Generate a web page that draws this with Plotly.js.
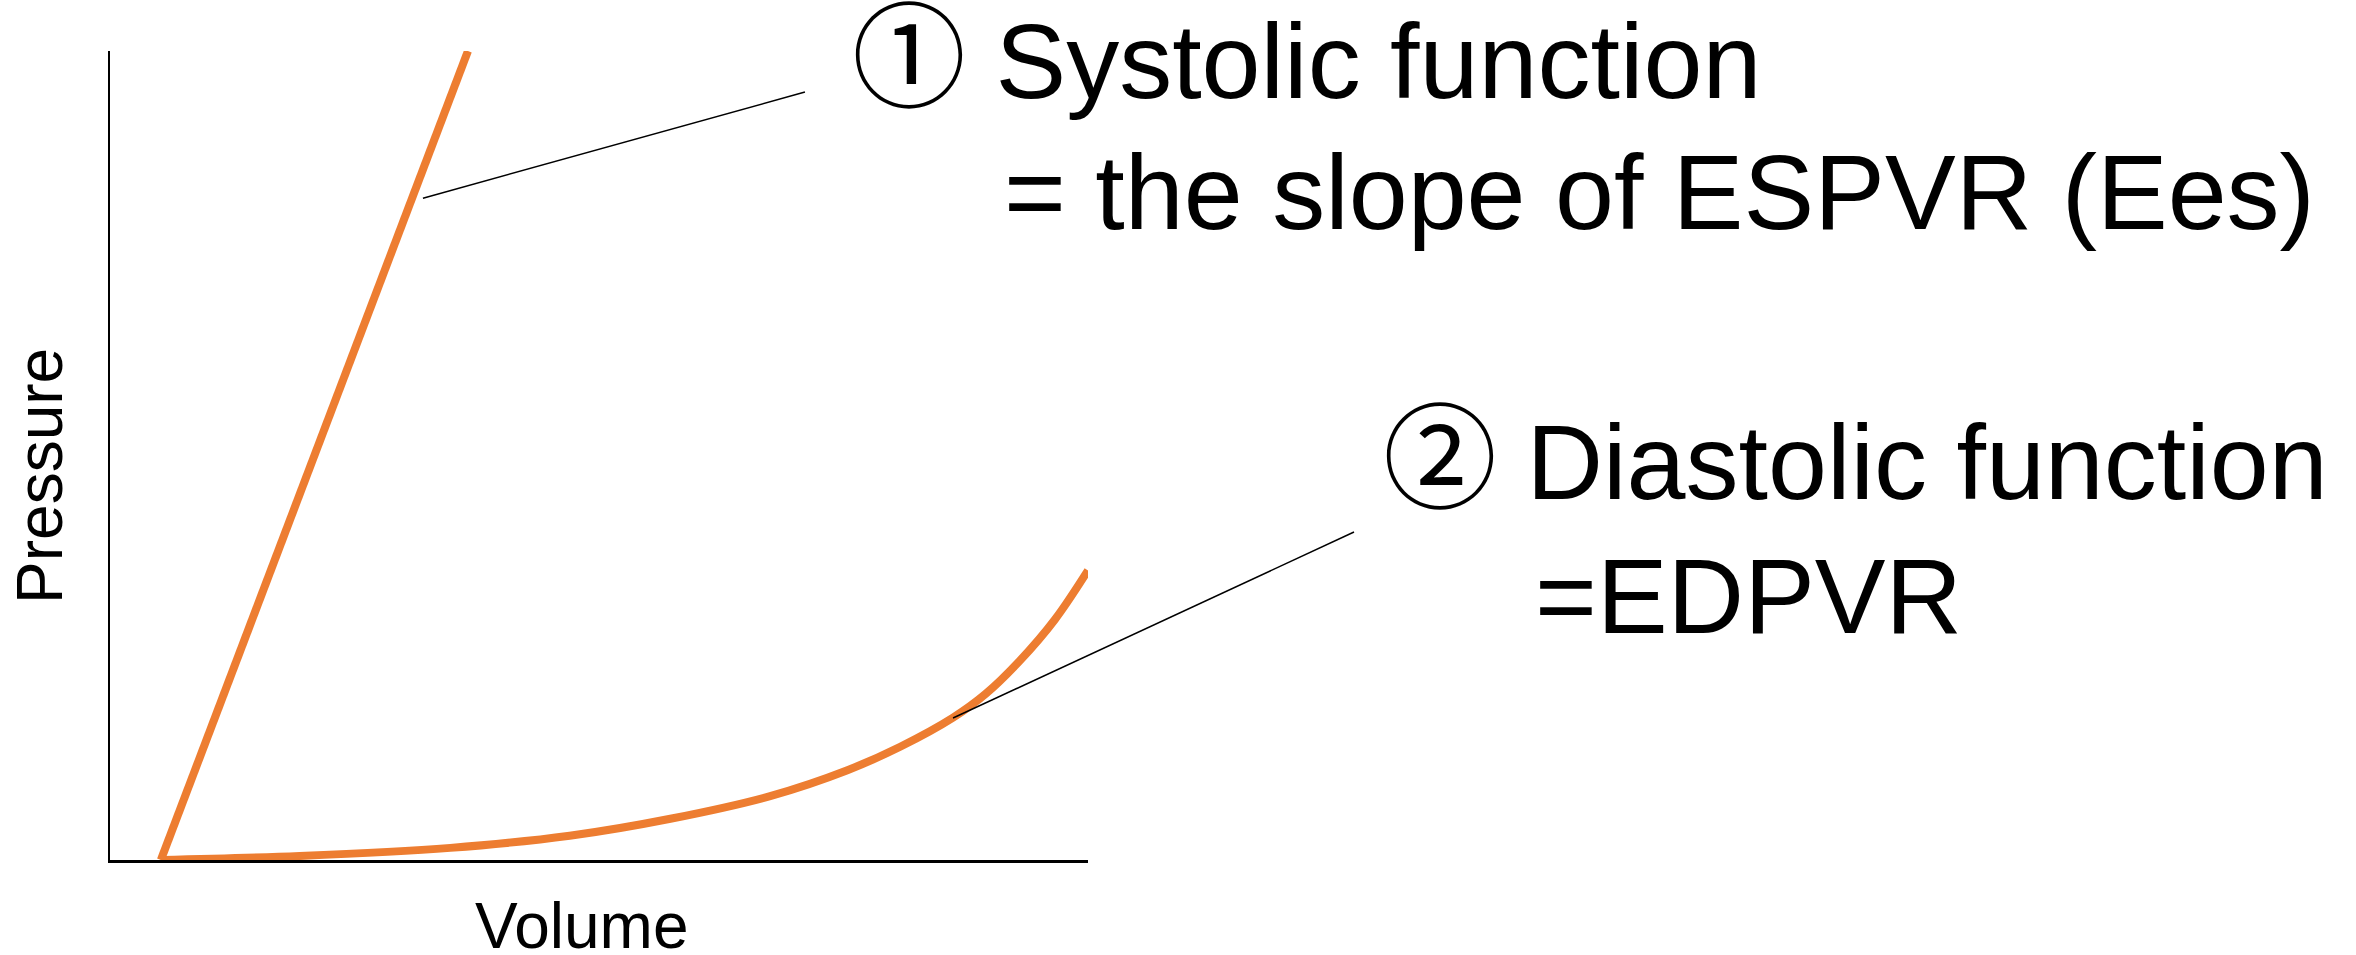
<!DOCTYPE html>
<html>
<head>
<meta charset="utf-8">
<script src="https://cdn.plot.ly/plotly-3.0.1.min.js"></script>
<style>
  html, body { margin: 0; padding: 0; background: #ffffff; }
  #chart { width: 2356px; height: 955px; }
</style>
</head>
<body>
<div id="chart"></div>
<script>
// ---- data (arbitrary units, axes 0..100) ----
var espvrVolume = [5.2, 36.6];
var espvrPressure = [0, 100];

var edpvrVolume = [5.2, 19.4, 34.8, 47.0, 57.3, 67.5, 75.4, 80.8, 86.2, 89.5, 93.0, 96.6, 100];
var edpvrPressure = [0, 0.5, 1.5, 3.0, 5.1, 7.9, 11.1, 14.0, 17.6, 20.5, 24.6, 29.7, 35.8];

var xAxisLabel = "Volume";
var yAxisLabel = "Pressure";
var marker1 = "\u2460";
var marker2 = "\u2461";
var label1a = "Systolic function";
var label1b = "= the slope of ESPVR (Ees)";
var label2a = "Diastolic function";
var label2b = "=EDPVR";

// ---- layout ----
var FONT = "Liberation Sans, Arial, Noto Sans CJK JP, sans-serif";
var ORANGE = "#ED7D31";
var CIRCLE_SPAN = '<span style="font-size:114px;font-family:Noto Sans CJK JP">';

var traces = [
  {
    x: espvrVolume, y: espvrPressure, type: "scatter", mode: "lines",
    line: { color: ORANGE, width: 8 }, cliponaxis: false, hoverinfo: "skip"
  },
  {
    x: edpvrVolume, y: edpvrPressure, type: "scatter", mode: "lines",
    line: { color: ORANGE, width: 8, shape: "spline", smoothing: 1 }, cliponaxis: false, hoverinfo: "skip"
  }
];

function ann(text, x, y, size, extra) {
  var a = {
    text: text, xref: "paper", yref: "paper", x: x, y: y,
    xanchor: "left", yanchor: "middle", showarrow: false,
    font: { family: FONT, size: size, color: "#000000" }
  };
  for (var k in extra) a[k] = extra[k];
  return a;
}

var layout = {
  width: 2356, height: 955,
  margin: { l: 110, r: 1268, t: 51, b: 95 },
  paper_bgcolor: "#ffffff", plot_bgcolor: "#ffffff",
  showlegend: false, hovermode: false,
  xaxis: {
    range: [0, 100], showline: true, linecolor: "#000000", linewidth: 2.5,
    showgrid: false, zeroline: false, showticklabels: false, ticks: "", fixedrange: true
  },
  yaxis: {
    range: [0, 100], showline: true, linecolor: "#000000", linewidth: 2.5,
    showgrid: false, zeroline: false, showticklabels: false, ticks: "", fixedrange: true
  },
  shapes: [
    { type: "line", xref: "paper", yref: "paper", x0: 0.320, y0: 0.818, x1: 0.7106, y1: 0.9493,
      line: { color: "#000000", width: 1.5 } },
    { type: "line", xref: "paper", yref: "paper", x0: 0.862, y0: 0.1755, x1: 1.272, y1: 0.4054,
      line: { color: "#000000", width: 1.5 } }
  ],
  annotations: [
    ann(CIRCLE_SPAN + marker1 + "</span> " + label1a, 0.7566, 1.0037, 106, {}),
    ann(label1b, 0.9121, 0.8257, 106, {}),
    ann(CIRCLE_SPAN + marker2 + "</span> " + label2a, 1.2996, 0.5068, 106, {}),
    ann(label2b, 1.455, 0.3263, 106, {}),
    ann(xAxisLabel, 0.4821, -0.0816, 64, { xanchor: "center" }),
    ann(yAxisLabel, -0.0716, 0.4747, 64, { xanchor: "center", textangle: -90 })
  ]
};

Plotly.newPlot("chart", traces, layout, { displayModeBar: false, staticPlot: true });
</script>
</body>
</html>
